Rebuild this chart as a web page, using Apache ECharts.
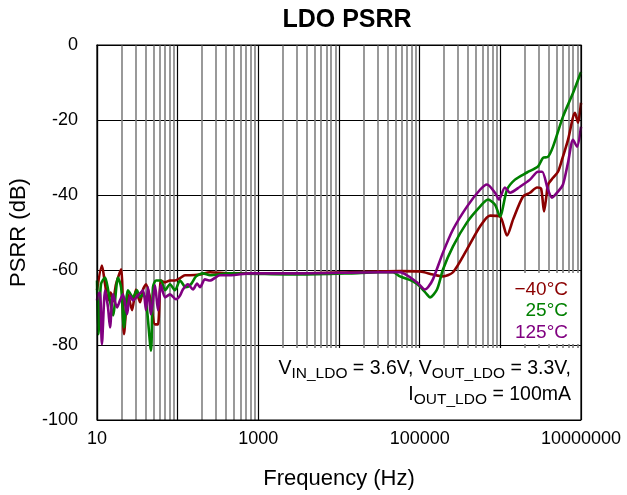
<!DOCTYPE html>
<html>
<head>
<meta charset="utf-8">
<script src="https://cdn.jsdelivr.net/npm/echarts@6/dist/echarts.min.js"></script>
<style>
html,body{margin:0;padding:0;background:#fff;}
#chart{width:627px;height:495px;}
</style>
</head>
<body>
<div id="chart"></div>
<script>
// ---- Data (frequency in Hz, PSRR in dB) ----
const seriesNames = ['\u221240\u00b0C', '25\u00b0C', '125\u00b0C'];
const xTickLabels = ['10', '1000', '100000', '10000000'];
const yTickLabels = ['0', '-20', '-40', '-60', '-80', '-100'];

const redFreq = [10, 11.5, 12.6, 13.7, 14.8, 15.8, 17.2, 19.9, 21.6, 24.2, 27.2, 30.4, 34.1, 37.2, 40.5, 45.4, 52.4, 57, 62.1, 69.7, 80.3, 92.7, 107, 123, 142, 189, 252, 446, 789, 3280, 13700, 57000, 101000, 146000, 195000, 259000, 386000, 560000, 745000, 990000, 1210000, 1440000, 1910000, 2330000, 2850000, 3200000, 3480000, 3740000, 3900000, 4500000, 5180000, 5810000, 6900000, 8420000, 9180000, 10000000];
const redDb = [-65.4, -58.8, -63.8, -68.1, -66, -68.4, -63.8, -59.8, -77.1, -66.5, -70.7, -65.2, -68.6, -65.2, -63.8, -67.3, -74.5, -74.5, -62.8, -63.3, -62.8, -62.8, -62.2, -61.4, -61.4, -61.2, -60.6, -60.9, -60.9, -60.9, -60.6, -60.3, -60.4, -61.2, -61.7, -60.6, -54.5, -48.4, -45.5, -45.7, -50.8, -46.5, -40.4, -39.4, -38.0, -38.3, -44.4, -40, -37.2, -35.4, -33.8, -30.6, -25.3, -18.1, -20.7, -15.4];

const greenFreq = [10, 10.4, 11.2, 12.6, 13.7, 15.8, 18.2, 19.9, 21.6, 24.2, 28, 31.3, 34.1, 37.2, 40.5, 46.7, 49.4, 53.9, 62.1, 69.7, 80.3, 92.7, 107, 126, 146, 169, 206, 252, 446, 3280, 13700, 32200, 46700, 57000, 82600, 101000, 123000, 134000, 164000, 195000, 259000, 386000, 560000, 704000, 859000, 990000, 1210000, 1520000, 2140000, 2930000, 3380000, 3900000, 4500000, 5980000, 7960000, 10000000];
const greenDb = [-62.8, -77.1, -63.8, -62, -65.2, -72.1, -62, -64.6, -75.3, -65.4, -67.3, -65.4, -67.3, -66.5, -68.1, -81.5, -64.6, -62.8, -62.8, -65.4, -63.8, -65.4, -62.8, -64.6, -63.8, -61.7, -60.9, -61.4, -60.9, -61.2, -60.9, -60.6, -60.6, -61.7, -63, -64.4, -66.5, -67.3, -65.2, -59.8, -53.7, -47.3, -43.1, -41.2, -42.6, -45.7, -38.6, -35.9, -34.0, -32.4, -30.1, -29.8, -27.1, -19.1, -12.8, -7.2];

const purpleFreq = [10, 10.3, 10.9, 11.5, 12.6, 13.7, 14.5, 15.8, 17.7, 19.3, 21, 23.6, 25.6, 28, 32.2, 37.2, 40.5, 42.9, 46.7, 52.4, 57, 62.1, 69.7, 80.3, 95.3, 107, 116, 134, 155, 174, 189, 218, 252, 335, 446, 789, 3280, 32200, 57000, 92600, 116000, 127000, 146000, 195000, 259000, 386000, 560000, 684000, 859000, 962000, 1140000, 1320000, 1750000, 2330000, 2930000, 3300000, 3900000, 4370000, 5180000, 5980000, 6900000, 7960000, 8920000, 10000000];
const purpleDb = [-68.1, -66.5, -66, -79.8, -65.4, -70, -75.3, -66.5, -70, -68.1, -66.5, -71.8, -66.8, -68.1, -66.8, -65.4, -70.7, -64.6, -71.8, -64.1, -70.7, -64.1, -67.3, -66.5, -67.8, -66.8, -65.2, -63.8, -65.2, -63.6, -64.6, -62.5, -62.8, -61.4, -61.4, -60.9, -60.9, -60.6, -60.6, -63.3, -65.2, -64.6, -62.5, -55.3, -49.2, -43.1, -38.6, -37.2, -39.4, -41.2, -38.0, -39.4, -37.8, -35.9, -33.8, -33.8, -38.6, -40.7, -39.1, -37.2, -31.4, -25.3, -27.1, -21.8];

const colors = ['#8b0000', '#008000', '#800080'];
const FONT = '"Liberation Sans", Arial, sans-serif';

function zip(f, d) { return f.map((x, i) => [x, d[i]]); }

// Minor grid positions (2..9 per decade)
const minorLines = [];
for (let dec = 10; dec < 1e7; dec *= 10) {
  for (let m = 2; m <= 9; m++) minorLines.push({ xAxis: dec * m });
}

const chart = echarts.init(document.getElementById('chart'), null, { renderer: 'canvas' });

const gLeft = 97, gRight = 46, gTop = 45, gBottom = 74;

const lineSeries = [[redFreq, redDb], [greenFreq, greenDb], [purpleFreq, purpleDb]].map((p, i) => ({
  name: seriesNames[i],
  type: 'line',
  data: zip(p[0], p[1]),
  showSymbol: false,
  symbol: 'none',
  smooth: 0.25,
  z: 5,
  lineStyle: { color: colors[i], width: 2.6 },
  animation: false
}));

const option = {
  animation: false,
  backgroundColor: '#fff',
  title: {
    text: 'LDO PSRR',
    left: 342, top: 3, textAlign: 'center',
    textStyle: { fontFamily: FONT, fontSize: 25, fontWeight: 'bold', color: '#000' }
  },
  grid: { left: gLeft, right: gRight, top: gTop, bottom: gBottom, show: true, borderColor: '#000', borderWidth: 1.2, backgroundColor: 'transparent', z: 10 },
  xAxis: {
    type: 'log', logBase: 10, min: 10, max: 1e7,
    name: 'Frequency (Hz)', nameLocation: 'middle', nameGap: 48,
    nameTextStyle: { fontFamily: FONT, fontSize: 22, color: '#000' },
    axisLine: { show: true, lineStyle: { color: '#000', width: 1.2 } },
    axisTick: { show: false },
    axisLabel: {
      interval: 1, margin: 10, fontFamily: FONT, fontSize: 18, color: '#000',
      formatter: v => { const s = String(Math.round(v)); return xTickLabels.indexOf(s) >= 0 ? s : ''; }
    },
    splitLine: { show: true, lineStyle: { color: '#000', width: 1.2 } },
    minorTick: { show: false }, minorSplitLine: { show: false }
  },
  yAxis: {
    type: 'value', min: -100, max: 0, interval: 20,
    name: 'PSRR (dB)', nameLocation: 'middle', nameGap: 67, nameRotate: 90,
    nameTextStyle: { fontFamily: FONT, fontSize: 22, color: '#000' },
    axisLine: { show: true, lineStyle: { color: '#000', width: 1.2 } },
    axisTick: { show: false },
    axisLabel: { margin: 19, fontFamily: FONT, fontSize: 18, color: '#000',
      formatter: v => { const s = String(v); return yTickLabels.indexOf(s) >= 0 ? s : ''; } },
    splitLine: { show: true, lineStyle: { color: '#000', width: 1.2 } }
  },
  graphic: [
    { type: 'rect', z: 3, silent: true, shape: { x: 503, y: 273, width: 77, height: 71 }, style: { fill: '#fff' } },
    { type: 'rect', z: 3, silent: true, shape: { x: 270, y: 348, width: 310, height: 72 }, style: { fill: '#fff' } },
    { type: 'text', z: 4, x: 568, y: 290, style: { text: seriesNames[0], fill: colors[0], font: '19px ' + FONT, align: 'right', verticalAlign: 'middle' } },
    { type: 'text', z: 4, x: 568, y: 311, style: { text: seriesNames[1], fill: colors[1], font: '19px ' + FONT, align: 'right', verticalAlign: 'middle' } },
    { type: 'text', z: 4, x: 568, y: 333, style: { text: seriesNames[2], fill: colors[2], font: '19px ' + FONT, align: 'right', verticalAlign: 'middle' } },
    { type: 'text', z: 4, x: 571, y: 356,
      style: {
        text: '{n|V}{s|IN_LDO}{n| = 3.6V, V}{s|OUT_LDO}{n| = 3.3V,}\n{n|I}{s|OUT_LDO}{n| = 100mA}',
        align: 'right', verticalAlign: 'top', fill: '#000',
        rich: {
          n: { fontFamily: FONT, fontSize: 19.5, lineHeight: 26, verticalAlign: 'middle', fill: '#000' },
          s: { fontFamily: FONT, fontSize: 15.5, lineHeight: 13, verticalAlign: 'bottom', fill: '#000' }
        }
      }
    }
  ],
  series: [
    {
      type: 'line', data: [[10, -200]], symbol: 'none', z: 1, silent: true,
      lineStyle: { opacity: 0 },
      markLine: {
        z: 1,
        silent: true, symbol: ['none', 'none'], animation: false,
        label: { show: false },
        lineStyle: { color: '#808080', width: 1.6, type: 'solid' },
        data: minorLines
      }
    },
    ...lineSeries
  ]
};
chart.setOption(option);
</script>
</body>
</html>
